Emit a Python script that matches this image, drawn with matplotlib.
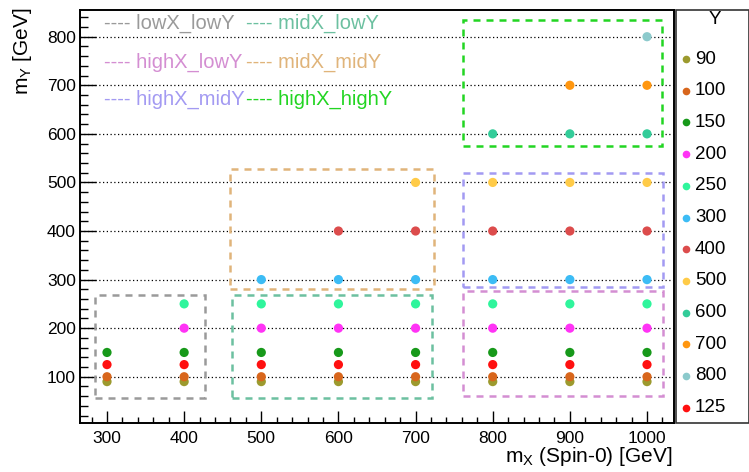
import numpy as np
import matplotlib
matplotlib.use("Agg")
import matplotlib.pyplot as plt
from matplotlib.patches import Rectangle
from matplotlib.ticker import MultipleLocator

plt.rcParams['font.family'] = ['Liberation Sans', 'DejaVu Sans']
plt.rcParams['mathtext.fontset'] = 'custom'
plt.rcParams['mathtext.rm'] = 'Liberation Sans'
plt.rcParams['mathtext.it'] = 'Liberation Sans'

# signal mass points, one list of m_X per m_Y value (legend order)
y_masses = [90, 100, 150, 200, 250, 300, 400, 500, 600, 700, 800, 125]
x_per_y = [
    [300, 400, 500, 600, 700, 800, 900, 1000],
    [300, 400, 500, 600, 700, 800, 900, 1000],
    [300, 400, 500, 600, 700, 800, 900, 1000],
    [400, 500, 600, 700, 800, 900, 1000],
    [400, 500, 600, 700, 800, 900, 1000],
    [500, 600, 700, 800, 900, 1000],
    [600, 700, 800, 900, 1000],
    [700, 800, 900, 1000],
    [800, 900, 1000],
    [900, 1000],
    [1000],
    [300, 400, 500, 600, 700, 800, 900, 1000],
]
y_colors = ['#9c9a2e', '#d8661c', '#17991a', '#ff33f5', '#2ff59c', '#3cbcf5',
            '#dc4c4c', '#ffcb48', '#33cc99', '#ff960f', '#8ccacc', '#ff1010']

# analysis regions: name, x0, x1, y0, y1
regions = ['lowX_lowY', 'midX_lowY', 'highX_lowY', 'midX_midY', 'highX_midY', 'highX_highY']
reg_x0 = [284, 462, 761, 460, 761, 762]
reg_x1 = [427, 721, 1021, 724, 1021, 1020]
reg_y0 = [56, 56, 60, 280, 285, 574]
reg_y1 = [268, 268, 277, 527, 520, 834]
reg_colors = ['#9a9a9a', '#6cc0a0', '#d48ed2', '#e0b47a', '#a39af2', '#22d522']

W, H = 749, 472
fig = plt.figure(figsize=(W / 100, H / 100), dpi=100)
ax = fig.add_axes([80 / W, 1 - 422.7 / H, (674 - 80) / W, (422.7 - 9.5) / H])

ax.set_xlim(265, 1035)
ax.set_ylim(5.4, 856)

for yv in range(100, 900, 100):
    ax.axhline(yv, color='black', lw=0.9, ls=(0, (1, 2)), zorder=1)

for i in range(len(regions)):
    r = Rectangle((reg_x0[i], reg_y0[i]), reg_x1[i] - reg_x0[i], reg_y1[i] - reg_y0[i],
                  fill=False, ec=reg_colors[i], lw=1.8, ls=(0, (2.8, 2.4)), zorder=2)
    ax.add_patch(r)

for i, yv in enumerate(y_masses):
    xs = x_per_y[i]
    ax.scatter(xs, [yv] * len(xs), s=44, color=y_colors[i], edgecolors='none', zorder=3)

ax.xaxis.set_major_locator(MultipleLocator(100))
ax.xaxis.set_minor_locator(MultipleLocator(20))
ax.yaxis.set_major_locator(MultipleLocator(100))
ax.yaxis.set_minor_locator(MultipleLocator(20))
ax.tick_params(axis='x', which='major', direction='in', length=8.6, width=1, labelsize=12.5, pad=6)
ax.tick_params(axis='x', which='minor', direction='in', length=4.3, width=1)
ax.tick_params(axis='y', which='major', direction='in', length=11.5, width=1, labelsize=12.5, pad=3)
ax.tick_params(axis='y', which='minor', direction='in', length=5.8, width=1)
for s in ax.spines.values():
    s.set_linewidth(1.4)

fig.text(673 / W, 1 - 456 / H, r'm$_{\rm X}$ (Spin-0) [GeV]', ha='right', va='center', fontsize=15)
fig.text(22 / W, 1 - 8 / H, r'm$_{\rm Y}$ [GeV]', ha='center', va='top', rotation=90, fontsize=15)

# region legend in the top left corner
leg_pos = [(104, 23), (246, 23), (104, 62), (246, 62), (104, 99), (246, 99)]
leg_order = ['lowX_lowY', 'midX_lowY', 'highX_lowY', 'midX_midY', 'highX_midY', 'highX_highY']
for (px, py), name in zip(leg_pos, leg_order):
    c = reg_colors[regions.index(name)]
    fig.text(px / W, 1 - py / H, '---- ' + name, color=c, fontsize=14.5, ha='left', va='center')

# mass legend box on the right
fig.patches.append(Rectangle((676 / W, 1 - 422.5 / H), (748.5 - 676) / W, (422.5 - 9.5) / H,
                             transform=fig.transFigure, fill=False, ec='#333333', lw=1.2))
fig.text(715 / W, 1 - 20 / H, 'Y', ha='center', va='center', fontsize=13.5)
for i, yv in enumerate(y_masses):
    py = 59 + i * 31.7
    fig.lines.append(plt.Line2D([686 / W], [1 - py / H], marker='o', ms=5.5, color=y_colors[i],
                                mec='none', transform=fig.transFigure))
    fig.text(695 / W, 1 - py / H, str(yv), ha='left', va='center', fontsize=13.5)

fig.savefig('out.png', dpi=100)
